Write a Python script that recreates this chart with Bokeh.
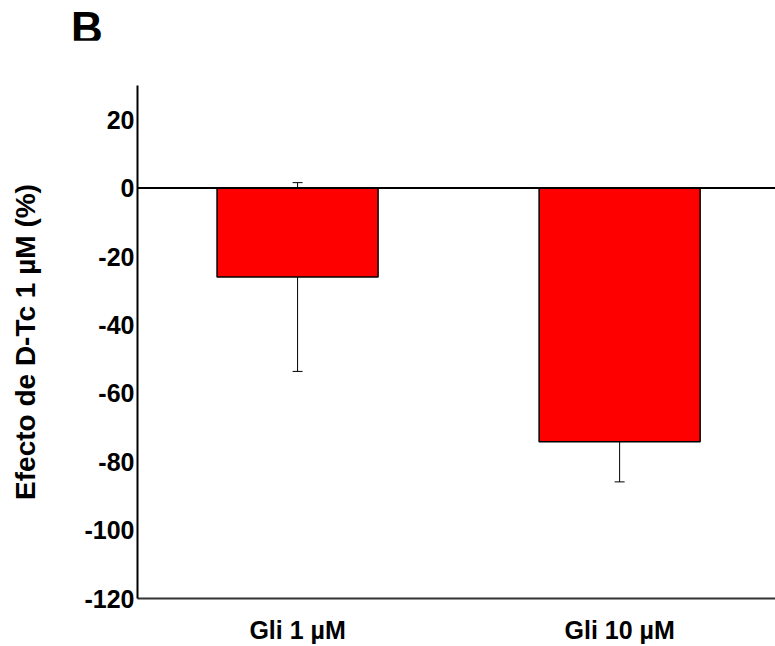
from bokeh.plotting import figure
from bokeh.models import Range1d, FixedTicker, Span, Whisker, ColumnDataSource, Div
from bokeh.layouts import column
from bokeh.embed import file_html
from bokeh.resources import INLINE

panel_letter = "B"
categories = ["Gli 1 µM", "Gli 10 µM"]
means = [-26.0, -74.2]
errors = [27.6, 11.7]
y_ticks = [20, 0, -20, -40, -60, -80, -100, -120]
y_tick_labels = ["20", "0", "-20", "-40", "-60", "-80", "-100", "-120"]

xs = [i + 1 for i in range(len(categories))]
src = ColumnDataSource(dict(
    x=xs, top=[0] * len(means), bottom=means,
    upper=[m + e for m, e in zip(means, errors)],
    lower=[m - e for m, e in zip(means, errors)],
))

p = figure(width=775, height=606, output_backend="svg", toolbar_location=None,
           x_range=Range1d(0.503, 2.484), y_range=Range1d(-120, 30),
           min_border_left=137, min_border_right=0, min_border_top=45, min_border_bottom=46)
p.outline_line_color = None
p.background_fill_color = "white"
p.border_fill_color = "white"
p.xgrid.visible = False
p.ygrid.visible = False

p.vbar(x="x", width=0.5, top="top", bottom="bottom", source=src,
       fill_color="#FF0000", line_color="black", line_width=1.5)

w = Whisker(base="x", upper="upper", lower="lower", source=src,
            line_color="black", line_width=1)
w.upper_head.size = 10
w.lower_head.size = 10
w.upper_head.line_color = "black"
w.lower_head.line_color = "black"
p.add_layout(w)

p.add_layout(Span(location=0, dimension="width", line_color="black", line_width=2))

font = "Liberation Sans"
p.yaxis.ticker = FixedTicker(ticks=y_ticks)
p.yaxis.major_label_overrides = {t: l for t, l in zip(y_ticks, y_tick_labels)}
p.yaxis.major_tick_line_color = None
p.yaxis.minor_tick_line_color = None
p.yaxis.major_tick_out = 0
p.yaxis.major_label_standoff = 3
p.yaxis.major_label_text_font = font
p.yaxis.major_label_text_font_style = "bold"
p.yaxis.major_label_text_font_size = "25px"
p.yaxis.major_label_text_color = "black"
p.yaxis.axis_line_color = "black"
p.yaxis.axis_line_width = 2
p.yaxis.axis_label = "Efecto de D-Tc 1 µM (%)"
p.yaxis.axis_label_text_font = font
p.yaxis.axis_label_text_font_style = "bold"
p.yaxis.axis_label_text_font_size = "28px"
p.yaxis.axis_label_text_color = "black"
p.yaxis.axis_label_standoff = 40

p.xaxis.ticker = FixedTicker(ticks=xs)
p.xaxis.major_label_overrides = {x: c for x, c in zip(xs, categories)}
p.xaxis.major_tick_line_color = None
p.xaxis.minor_tick_line_color = None
p.xaxis.major_tick_out = 0
p.xaxis.major_label_standoff = 17
p.xaxis.major_label_text_font = font
p.xaxis.major_label_text_font_style = "bold"
p.xaxis.major_label_text_font_size = "25px"
p.xaxis.major_label_text_color = "black"
p.xaxis.axis_line_color = "#333333"
p.xaxis.axis_line_width = 2

letter = Div(
    text=('<div style="font-family: \'Liberation Sans\', Arial, sans-serif; font-weight: bold; '
          'font-size: 44px; line-height: 44px; color: black; margin: 6px 0 0 71px;">'
          + panel_letter + '</div>'),
    width=775, height=40, margin=0,
)

layout = column(letter, p, spacing=0, margin=0)

open("out.html", "w").write(file_html(layout, INLINE))
